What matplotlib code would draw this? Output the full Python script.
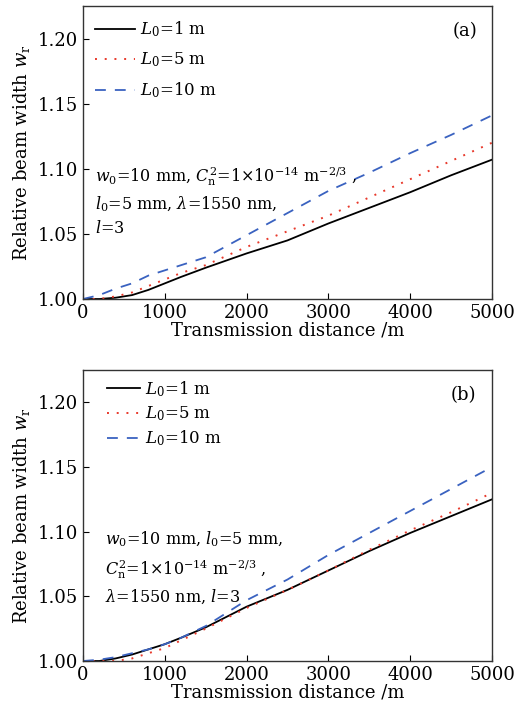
import numpy as np
import matplotlib
matplotlib.use('Agg')
import matplotlib.pyplot as plt

plt.rcParams['font.family'] = 'DejaVu Serif'
plt.rcParams['mathtext.fontset'] = 'dejavuserif'

# transmission distance (m)
dist = [0, 200, 400, 600, 800, 1000, 1200, 1500, 2000, 2500, 3000, 3500, 4000, 4500, 5000]

# panel (a)
a_L1 = [1.000, 1.000, 1.001, 1.003, 1.007, 1.012, 1.017, 1.024, 1.035, 1.045, 1.058, 1.070, 1.082, 1.095, 1.107]
a_L5 = [1.000, 1.000, 1.002, 1.005, 1.010, 1.015, 1.020, 1.026, 1.040, 1.052, 1.064, 1.078, 1.092, 1.106, 1.120]
a_L10 = [1.000, 1.003, 1.008, 1.012, 1.018, 1.022, 1.026, 1.032, 1.049, 1.066, 1.083, 1.097, 1.112, 1.126, 1.141]

# panel (b)
b_L1 = [1.000, 1.000, 1.002, 1.005, 1.009, 1.013, 1.018, 1.026, 1.042, 1.055, 1.070, 1.085, 1.099, 1.112, 1.125]
b_L5 = [1.000, 1.000, 1.000, 1.002, 1.006, 1.010, 1.016, 1.025, 1.041, 1.055, 1.070, 1.086, 1.101, 1.115, 1.130]
b_L10 = [1.000, 1.001, 1.003, 1.006, 1.009, 1.013, 1.018, 1.027, 1.047, 1.063, 1.082, 1.099, 1.116, 1.133, 1.150]

labels = [r'$L_0$=1 m', r'$L_0$=5 m', r'$L_0$=10 m']
xticks = [0, 1000, 2000, 3000, 4000, 5000]
yticks = [1.00, 1.05, 1.10, 1.15, 1.20]

note_a = ('$w_0$=10 mm, $C_{\\rm n}^2$=1$\\times$10$^{-14}$ m$^{-2/3}$ ,\n'
          '$l_0$=5 mm, $\\lambda$=1550 nm,\n$l$=3')
note_b = ('$w_0$=10 mm, $l_0$=5 mm,\n$C_{\\rm n}^2$=1$\\times$10$^{-14}$ m$^{-2/3}$ ,\n'
          '$\\lambda$=1550 nm, $l$=3')

fig = plt.figure(figsize=(5.23, 7.12), dpi=100)
W, H = 523, 712

def panel(rect, ys, tag, note, note_xy, tag_xy, leg_gap, leg_xy, hlen):
    l, t, r, b = rect
    ax = fig.add_axes([l / W, 1 - b / H, (r - l) / W, (b - t) / H])
    ax.plot(dist, ys[0], color='black', lw=1.3, label=labels[0])
    ax.plot(dist, ys[1], color='#e8392b', lw=1.4, ls=(0, (1, 4)), label=labels[1])
    ax.plot(dist, ys[2], color='#3a62c0', lw=1.3, ls=(0, (6, 5)), label=labels[2])
    ax.set_xlim(0, 5000)
    ax.set_ylim(1.0, 1.225)
    ax.set_xticks(xticks)
    ax.set_yticks(yticks)
    ax.set_yticklabels(['%.2f' % v for v in yticks])
    ax.tick_params(direction='in', length=4, labelsize=13, top=False, right=False)
    for s in ax.spines.values():
        s.set_linewidth(1.0)
        s.set_color('#333333')
    ax.set_xlabel('Transmission distance /m', fontsize=13, labelpad=0)
    ax.set_ylabel('Relative beam width $w_{\\rm r}$', fontsize=13, labelpad=4)
    ax.legend(loc='upper left', bbox_to_anchor=leg_xy, frameon=False,
              fontsize=12, handlelength=hlen, handletextpad=0.3,
              labelspacing=leg_gap, borderaxespad=0.0, borderpad=0.2)
    ax.text(tag_xy[0], tag_xy[1], tag, transform=ax.transAxes, fontsize=13,
            ha='right', va='center')
    ax.text(note_xy[0], note_xy[1], note, transform=ax.transAxes, fontsize=11.5,
            ha='left', va='top', linespacing=1.45)
    return ax

panel((83, 6, 492, 299), [a_L1, a_L5, a_L10], '(a)', note_a, (0.03, 0.46),
      (0.965, 0.915), 0.68, (0.022, 0.965), 2.4)
panel((83, 370, 492, 661), [b_L1, b_L5, b_L10], '(b)', note_b, (0.055, 0.45),
      (0.96, 0.915), 0.33, (0.05, 0.98), 2.0)

fig.savefig('out.png', dpi=100)
